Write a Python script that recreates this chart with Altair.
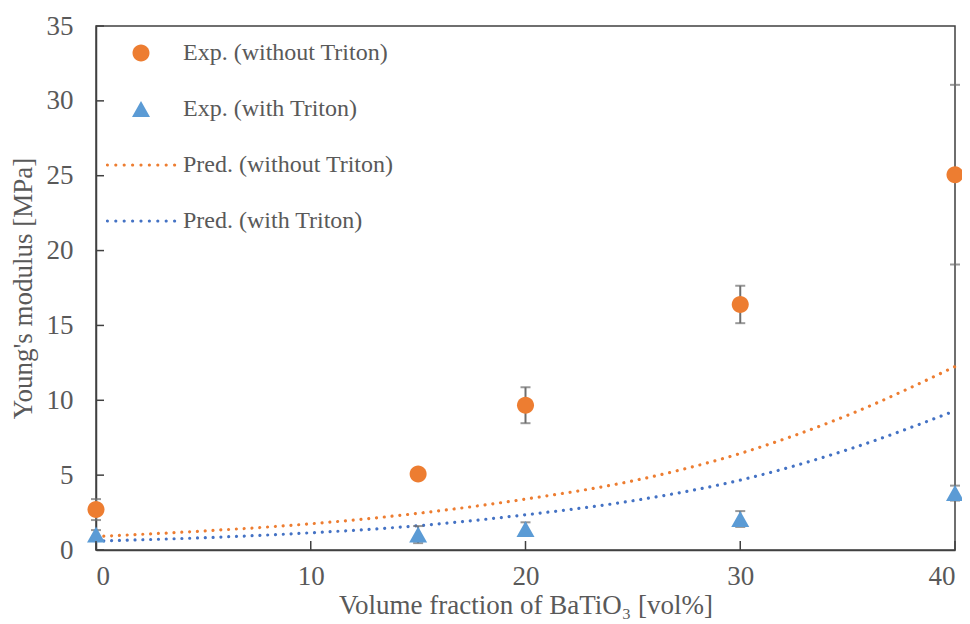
import altair as alt
import pandas as pd

# ---- data ----
series_names = ["Exp. (without Triton)", "Exp. (with Triton)",
                "Pred. (without Triton)", "Pred. (with Triton)"]
series_colors = ["#ED7D31", "#5B9BD5", "#ED7D31", "#4472C4"]

exp_x = [0, 15, 20, 30, 40]
exp_without = [2.7, 5.07, 9.67, 16.4, 25.07]
err_without = [0.7, 0.3, 1.2, 1.25, 6.0]
exp_with = [1.03, 1.03, 1.4, 2.07, 3.8]
err_with = [0.3, 0.57, 0.45, 0.53, 0.5]

pred_x = [0, 5, 10, 15, 20, 25, 30, 35, 40]
pred_without = [0.9, 1.27, 1.75, 2.45, 3.4, 4.62, 6.45, 9.0, 12.25]
pred_with = [0.6, 0.82, 1.15, 1.62, 2.35, 3.29, 4.67, 6.7, 9.3]

x_ticks = [0, 10, 20, 30, 40]
y_ticks = [0, 5, 10, 15, 20, 25, 30, 35]

# ---- styling ----
FONT = "Liberation Serif"
TXT = "#595959"
AX = "#404040"
U = 35.0  # pixels per symbol unit (symbol size 70px box)

def circ(r_px):
    r = r_px / U
    return f"M{-r:.4f},0A{r:.4f},{r:.4f} 0 1,0 {r:.4f},0A{r:.4f},{r:.4f} 0 1,0 {-r:.4f},0Z"

def tri(w_px, h_px):
    hw = w_px / 2 / U
    hh = h_px / 2 / U
    return f"M0,{-hh:.4f}L{hw:.4f},{hh:.4f}L{-hw:.4f},{hh:.4f}Z"

def dots(n, spacing_px, r_px):
    r = r_px / U
    s = spacing_px / U
    start = -(n - 1) / 2 * s
    parts = []
    for i in range(n):
        cx = start + i * s
        parts.append(f"M{cx - r:.4f},0A{r:.4f},{r:.4f} 0 1,0 {cx + r:.4f},0A{r:.4f},{r:.4f} 0 1,0 {cx - r:.4f},0Z")
    return "".join(parts)

shape_range = [circ(8.5), tri(18, 16), dots(9, 8.4, 1.6), dots(9, 8.4, 1.6)]

exp_df = pd.DataFrame({
    "x": exp_x * 2,
    "y": exp_without + exp_with,
    "err": err_without + err_with,
    "series": [series_names[0]] * len(exp_x) + [series_names[1]] * len(exp_x),
})
exp_df["lo"] = exp_df["y"] - exp_df["err"]
exp_df["hi"] = exp_df["y"] + exp_df["err"]

pred_df = pd.DataFrame({
    "x": pred_x * 2,
    "y": pred_without + pred_with,
    "series": [series_names[2]] * len(pred_x) + [series_names[3]] * len(pred_x),
    "col": [series_colors[2]] * len(pred_x) + [series_colors[3]] * len(pred_x),
})

xscale = alt.Scale(domain=[0, 40], nice=False, zero=False)
yscale = alt.Scale(domain=[0, 35], nice=False)

axis_style = dict(labelFont=FONT, labelFontSize=27, labelColor=TXT,
                  titleFont=FONT, titleFontSize=27, titleColor=TXT, titleFontWeight="normal",
                  domainColor=AX, domainWidth=1.5, ticks=False, grid=False)

xaxis = alt.Axis(values=x_ticks, labelPadding=13,
                 title="Volume fraction of BaTiO₃ [vol%]", titlePadding=3, **axis_style)
yaxis = alt.Axis(values=y_ticks, labelPadding=23,
                 title="Young's modulus [MPa]", titlePadding=9, **axis_style)

lines = alt.Chart(pred_df).mark_line(
    strokeDash=[0.01, 7.8], strokeCap="round", strokeWidth=3.2, interpolate="monotone"
).encode(
    x=alt.X("x:Q", scale=xscale, axis=xaxis),
    y=alt.Y("y:Q", scale=yscale, axis=yaxis),
    detail="series:N",
    color=alt.Color("col:N", scale=None),
)

err_rule = alt.Chart(exp_df).mark_rule(color="#6E6E6E", strokeWidth=2).encode(
    x="x:Q", y="lo:Q", y2="hi:Q"
)
cap_lo = alt.Chart(exp_df).mark_tick(color="#6E6E6E", orient="horizontal", size=10, thickness=2).encode(
    x="x:Q", y="lo:Q"
)
cap_hi = alt.Chart(exp_df).mark_tick(color="#6E6E6E", orient="horizontal", size=10, thickness=2).encode(
    x="x:Q", y="hi:Q"
)

points = alt.Chart(exp_df).mark_point(filled=True, opacity=1, size=4900, strokeWidth=0).encode(
    x="x:Q",
    y="y:Q",
    color=alt.Color("series:N", scale=alt.Scale(domain=series_names, range=series_colors),
                    legend=alt.Legend(title=None, orient="none", legendX=10, legendY=17,
                                      symbolSize=4900, symbolStrokeWidth=0,
                                      clipHeight=20, rowPadding=32,
                                      labelOffset=7, padding=0,
                                      labelFont=FONT, labelFontSize=24, labelColor=TXT,
                                      labelLimit=400, symbolOpacity=1)),
    shape=alt.Shape("series:N", scale=alt.Scale(domain=series_names, range=shape_range)),
)

ytick_df = pd.DataFrame({"v": y_ticks})
xtick_df = pd.DataFrame({"v": x_ticks})
yticks = alt.Chart(ytick_df).mark_rule(color=AX, strokeWidth=1.5).encode(
    y="v:Q", x=alt.value(0), x2=alt.value(8)
)
xticks = alt.Chart(xtick_df).mark_rule(color=AX, strokeWidth=1.5).encode(
    x="v:Q", y=alt.value(524), y2=alt.value(515)
)

chart = alt.layer(lines, err_rule, cap_lo, cap_hi, points, yticks, xticks).properties(
    width=859, height=524,
    autosize=alt.AutoSizeParams(type="none"),
    padding={"left": 88, "top": 18, "right": 7, "bottom": 74},
    background="white",
).configure_view(
    stroke=AX, strokeWidth=1.5
)

chart.save("out.html", embed_options={"renderer": "svg", "actions": False})
